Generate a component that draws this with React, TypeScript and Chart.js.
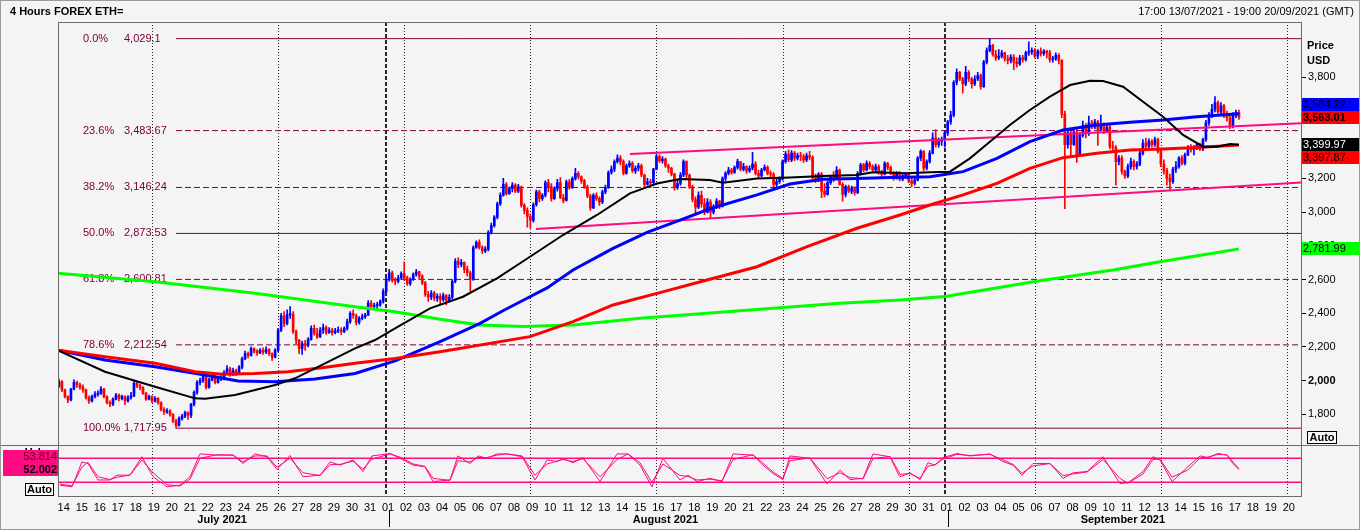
import React, { useEffect, useRef } from 'react';
import { Chart, registerables } from 'chart.js';

Chart.register(...registerables);

const FONT = '"Liberation Sans", Arial, sans-serif';

// ---------- time axis: days since 2021-07-01 00:00 GMT ----------
const X_MIN = 12.782;
const X_MAX = 81.777;
const FIRST_CANDLE = 12 + 20 / 24; // 13 Jul 20:00
const CANDLE_STEP = 4 / 24;
const dayTicks = Array.from({ length: 69 }, (_, i) => 13 + i);
const mondays = [18, 25, 32, 39, 46, 53, 60, 67, 74, 81];
const monthStarts = [31, 62];
const monthNames = ['July 2021', 'August 2021', 'September 2021'];
const monthBounds = [0, 31, 62, 92];
const priceTicks = [1800, 2000, 2200, 2400, 2600, 2800, 3000, 3200, 3400, 3600, 3800];

// ---------- 4h candles (open = previous close) ----------
const firstOpen = 1965;
const closes = [
  1995,
  1945, 1905, 1885, 1950, 1990, 1975,
  1960, 1945, 1900, 1880, 1905, 1920,
  1925, 1950, 1905, 1870, 1860, 1890,
  1915, 1895, 1905, 1880, 1900, 1910,
  1985, 1970, 1960, 1925, 1890, 1905,
  1880, 1895, 1870, 1830, 1815, 1820,
  1800, 1760, 1735, 1775, 1790, 1810,
  1795, 1860, 1930, 1990, 2000, 2025,
  1960, 2005, 2020, 1990, 2010, 2015,
  2050, 2070, 2035, 2060, 2040, 2080,
  2130, 2160, 2150, 2190, 2175, 2165,
  2180, 2170, 2185, 2160, 2140, 2180,
  2300, 2385, 2340, 2390, 2395, 2290,
  2240, 2190, 2220, 2210, 2245, 2310,
  2280, 2260, 2300, 2315, 2285, 2300,
  2285, 2295, 2300, 2290, 2310, 2350,
  2400, 2385, 2345, 2370, 2380, 2390,
  2460, 2440, 2445, 2450, 2470, 2530,
  2600, 2640, 2595, 2590, 2610, 2635,
  2610, 2575, 2600, 2630, 2645, 2620,
  2580, 2510, 2495, 2520, 2490, 2500,
  2480, 2505, 2475, 2495, 2590, 2710,
  2690, 2700, 2660, 2640, 2600, 2790,
  2820, 2790, 2770, 2780, 2880, 2920,
  2970, 3050, 3100, 3165, 3110, 3140,
  3160, 3125, 3150, 3040, 3010, 2975,
  2950, 3045, 3120, 3080, 3100, 3175,
  3150, 3080, 3140, 3175, 3085, 3070,
  3180, 3145, 3200, 3230, 3210, 3185,
  3150, 3095, 3025, 3100, 3080, 3060,
  3120, 3145, 3235, 3255, 3300, 3320,
  3300, 3230, 3275, 3290, 3245, 3260,
  3275, 3220, 3165, 3180, 3175, 3255,
  3330, 3305, 3315, 3275, 3260, 3225,
  3145, 3170, 3220, 3300, 3220, 3150,
  3075, 3030, 3100, 3050, 3000, 3060,
  3000, 3030, 3065, 3035, 3200, 3230,
  3250, 3235, 3265, 3300, 3255, 3270,
  3245, 3260, 3285, 3230, 3215, 3250,
  3265, 3230, 3225, 3165, 3180, 3195,
  3300, 3345, 3310, 3350, 3320, 3335,
  3330, 3310, 3335, 3325, 3205, 3190,
  3225, 3125, 3105, 3175, 3210, 3200,
  3250, 3165, 3105, 3150, 3125, 3140,
  3115, 3230, 3280, 3250, 3290, 3270,
  3250, 3270, 3240, 3225, 3290, 3265,
  3230, 3200, 3230, 3195, 3215, 3225,
  3185, 3170, 3190, 3320, 3360, 3260,
  3300, 3350, 3440, 3400, 3420, 3430,
  3470, 3535, 3575, 3770, 3830, 3790,
  3760, 3830, 3790, 3760, 3790, 3810,
  3745, 3890, 3960, 3990, 3935, 3915,
  3925, 3945, 3910, 3900, 3920, 3890,
  3880, 3915, 3905, 3945, 3950, 3960,
  3925, 3955, 3940, 3955, 3945, 3905,
  3910, 3930, 3900, 3580, 3400, 3470,
  3400, 3475, 3340, 3455, 3515, 3465,
  3530, 3505, 3535, 3490, 3520, 3480,
  3505, 3390, 3385, 3300, 3320, 3240,
  3215, 3270, 3300, 3270, 3285, 3350,
  3410, 3390, 3420, 3400, 3430, 3360,
  3285, 3245, 3200, 3180, 3255, 3270,
  3320, 3290, 3340, 3385, 3370, 3380,
  3400, 3375, 3430, 3530, 3575, 3610,
  3650, 3595, 3630, 3575, 3560, 3515,
  3575, 3590, 3563.01,
];
const highs = [
  2010,
  2000, 1950, 1910, 1955, 2005, 1998,
  1985, 1975, 1950, 1910, 1915, 1935,
  1940, 1965, 1955, 1910, 1880, 1898,
  1925, 1922, 1915, 1910, 1912, 1930,
  2000, 1995, 1980, 1965, 1930, 1915,
  1910, 1905, 1900, 1875, 1840, 1835,
  1828, 1805, 1770, 1785, 1800, 1820,
  1815, 1865, 1940, 2000, 2015, 2040,
  2035, 2015, 2030, 2035, 2020, 2028,
  2060, 2090, 2080, 2075, 2068, 2090,
  2140, 2175, 2170, 2200, 2195, 2185,
  2190, 2195, 2200, 2190, 2165, 2190,
  2310, 2400, 2410, 2420, 2440, 2410,
  2300, 2245, 2235, 2240, 2255, 2325,
  2330, 2310, 2315, 2335, 2325, 2315,
  2310, 2310, 2320, 2315, 2320, 2365,
  2410, 2420, 2395, 2380, 2395, 2400,
  2475, 2475, 2460, 2465, 2480, 2545,
  2615, 2660, 2650, 2610, 2625, 2645,
  2705, 2620, 2610, 2640, 2660, 2650,
  2630, 2590, 2530, 2535, 2530, 2515,
  2515, 2520, 2510, 2510, 2600, 2725,
  2730, 2720, 2705, 2680, 2650, 2800,
  2830, 2835, 2800, 2795, 2890, 2935,
  2980, 3060, 3115, 3200, 3175, 3150,
  3175, 3170, 3165, 3155, 3050, 3025,
  2990, 3055, 3130, 3130, 3110, 3185,
  3195, 3170, 3150, 3195, 3205, 3105,
  3190, 3195, 3210, 3260, 3240, 3215,
  3195, 3160, 3105, 3110, 3115, 3090,
  3130, 3160, 3245, 3275, 3310, 3340,
  3335, 3310, 3285, 3305, 3300, 3275,
  3290, 3285, 3225, 3200, 3195, 3260,
  3345, 3340, 3330, 3320, 3285, 3265,
  3230, 3195, 3235, 3310, 3305, 3225,
  3160, 3090, 3120, 3125, 3080, 3080,
  3075, 3045, 3080, 3070, 3210, 3240,
  3265, 3260, 3275, 3315, 3300, 3290,
  3275, 3275, 3355, 3300, 3250, 3260,
  3280, 3275, 3245, 3235, 3200, 3210,
  3310, 3360, 3370, 3365, 3360, 3350,
  3355, 3345, 3350, 3360, 3335, 3225,
  3235, 3235, 3170, 3185, 3220, 3240,
  3270, 3255, 3175, 3160, 3160, 3155,
  3150, 3240, 3290, 3290, 3305, 3300,
  3280, 3285, 3280, 3250, 3300, 3295,
  3275, 3240, 3240, 3240, 3225, 3235,
  3230, 3205, 3200, 3330, 3370, 3365,
  3310, 3365, 3470, 3490, 3440, 3445,
  3480, 3545, 3600, 3780, 3850, 3835,
  3800, 3865, 3840, 3800, 3810, 3830,
  3820, 3900, 3975, 4030, 3995, 3960,
  3965, 3960, 3950, 3930, 3935, 3935,
  3915, 3930, 3930, 3955, 4010, 3975,
  3970, 3965, 3975, 3965, 3960, 3960,
  3925, 3945, 3940, 3905, 3600, 3490,
  3480, 3490, 3490, 3470, 3540, 3525,
  3570, 3545, 3550, 3545, 3575, 3530,
  3520, 3520, 3420, 3395, 3335, 3335,
  3250, 3285, 3320, 3310, 3300, 3365,
  3430, 3440, 3435, 3430, 3445, 3440,
  3380, 3310, 3260, 3225, 3265, 3300,
  3330, 3335, 3350, 3395, 3400, 3395,
  3410, 3410, 3440, 3545, 3590, 3640,
  3685, 3660, 3650, 3640, 3600, 3575,
  3590, 3605, 3605,
];
const lows = [
  1960,
  1935, 1898, 1870, 1880, 1945, 1960,
  1950, 1930, 1890, 1865, 1872, 1898,
  1908, 1918, 1898, 1862, 1845, 1852,
  1885, 1880, 1885, 1858, 1872, 1890,
  1905, 1958, 1945, 1918, 1882, 1885,
  1870, 1872, 1860, 1820, 1800, 1805,
  1790, 1750, 1718, 1730, 1765, 1780,
  1770, 1780, 1850, 1920, 1975, 1990,
  1950, 1955, 1998, 1980, 1985, 2000,
  2005, 2040, 2025, 2030, 2030, 2035,
  2070, 2125, 2135, 2145, 2165, 2150,
  2160, 2155, 2160, 2150, 2120, 2135,
  2170, 2290, 2320, 2330, 2370, 2280,
  2220, 2160, 2155, 2180, 2200, 2240,
  2270, 2250, 2255, 2280, 2275, 2280,
  2270, 2278, 2285, 2275, 2285, 2300,
  2340, 2370, 2330, 2335, 2360, 2370,
  2385, 2425, 2425, 2430, 2440, 2460,
  2520, 2590, 2585, 2570, 2580, 2600,
  2595, 2565, 2565, 2595, 2620, 2600,
  2570, 2500, 2470, 2480, 2475, 2470,
  2455, 2470, 2450, 2465, 2485, 2580,
  2670, 2675, 2640, 2620, 2530, 2595,
  2785, 2780, 2755, 2760, 2770, 2870,
  2910, 2960, 3040, 3095, 3100, 3105,
  3120, 3115, 3115, 3030, 2990, 2910,
  2905, 2940, 3035, 3060, 3070, 3090,
  3120, 3065, 3075, 3125, 3080, 3055,
  3065, 3135, 3140, 3190, 3195, 3170,
  3140, 3085, 3010, 3020, 3070, 3040,
  3050, 3110, 3140, 3225, 3240, 3290,
  3280, 3220, 3225, 3265, 3235, 3230,
  3245, 3210, 3150, 3160, 3145, 3170,
  3250, 3295, 3290, 3265, 3235, 3215,
  3130, 3135, 3160, 3210, 3200, 3140,
  3060, 2995, 3020, 3030, 2985, 2995,
  2965, 2990, 3020, 3020, 3030, 3185,
  3220, 3225, 3230, 3255, 3245, 3245,
  3230, 3235, 3250, 3220, 3200, 3210,
  3245, 3220, 3205, 3150, 3150, 3170,
  3190, 3290, 3300, 3300, 3305, 3310,
  3305, 3295, 3300, 3310, 3195, 3175,
  3180, 3085, 3090, 3100, 3165, 3180,
  3195, 3160, 3065, 3090, 3115, 3110,
  3100, 3110, 3220, 3240, 3245, 3255,
  3235, 3240, 3225, 3210, 3220, 3250,
  3220, 3190, 3195, 3185, 3185, 3200,
  3175, 3150, 3160, 3185, 3305, 3245,
  3250, 3290, 3345, 3385, 3385, 3395,
  3385, 3455, 3520, 3565, 3755, 3780,
  3705, 3750, 3775, 3735, 3750, 3780,
  3730, 3740, 3880, 3950, 3925, 3900,
  3905, 3915, 3895, 3880, 3885, 3845,
  3860, 3870, 3890, 3895, 3930, 3935,
  3915, 3910, 3925, 3930, 3915, 3890,
  3890, 3900, 3880, 3560, 3020, 3380,
  3330, 3395, 3295, 3330, 3445, 3440,
  3455, 3495, 3495, 3395, 3480, 3465,
  3475, 3375, 3355, 3160, 3280, 3225,
  3200, 3205, 3255, 3250, 3255, 3275,
  3340, 3370, 3375, 3385, 3390, 3350,
  3270, 3225, 3160, 3130, 3170, 3235,
  3260, 3280, 3280, 3335, 3355, 3340,
  3370, 3365, 3365, 3420, 3515, 3560,
  3595, 3585, 3580, 3560, 3540, 3495,
  3500, 3560, 3550,
];

// ---------- moving averages (sample time, value) ----------
const maBlackT = [12.78, 15.39, 18.17, 20.39, 20.94, 22.61, 24.83, 25.94, 27.05, 28.16, 29.27, 30.38, 31.49, 33.43, 35.26, 37.15, 38.98, 40.81, 42.7, 44.53, 46.03, 47.31, 48.97, 49.69, 51.58, 53.41, 55.24, 57.13, 58.02, 59.91, 61.18, 62.29, 63.4, 64.51, 65.62, 66.73, 67.84, 68.96, 70.07, 70.79, 71.9, 73.01, 74.12, 75.23, 76.34, 77.11, 77.84, 78.33];
const maBlackV = [2180, 2053, 1964, 1895, 1893, 1915, 1974, 2014, 2073, 2132, 2192, 2241, 2310, 2429, 2498, 2607, 2735, 2864, 2983, 3111, 3170, 3196, 3190, 3175, 3200, 3206, 3214, 3220, 3236, 3230, 3236, 3240, 3319, 3418, 3517, 3606, 3685, 3754, 3780, 3778, 3744, 3655, 3566, 3458, 3388, 3388, 3404, 3399.97];
const maBlueT = [12.78, 15.39, 18.17, 20.94, 22.77, 24.83, 27.05, 29.27, 31.49, 33.99, 36.21, 37.48, 38.98, 39.93, 41.37, 43.59, 45.48, 47.31, 48.97, 51.58, 53.41, 55.24, 57.13, 58.96, 61.18, 63.02, 64.9, 66.73, 68.57, 70.45, 72.29, 74.12, 76.0, 78.33];
const maBlueV = [2180, 2123, 2083, 2034, 1998, 1994, 2010, 2043, 2117, 2232, 2340, 2415, 2498, 2550, 2657, 2785, 2880, 2953, 3020, 3102, 3167, 3195, 3200, 3206, 3210, 3240, 3319, 3418, 3487, 3517, 3533, 3547, 3566, 3584.22];
const maRedT = [12.78, 15.39, 18.17, 20.39, 21.88, 23.72, 25.55, 27.44, 29.27, 31.49, 33.99, 38.98, 41.37, 43.59, 46.03, 48.81, 51.58, 54.36, 57.13, 59.52, 61.18, 63.02, 64.9, 66.73, 68.57, 70.45, 72.29, 74.12, 76.0, 78.33];
const maRedV = [2180, 2142, 2103, 2053, 2038, 2043, 2053, 2077, 2103, 2132, 2172, 2261, 2350, 2449, 2518, 2597, 2676, 2795, 2904, 2983, 3042, 3102, 3171, 3260, 3323, 3349, 3369, 3375, 3383, 3397.87];
const maGreenT = [12.78, 18.17, 23.72, 29.27, 31.49, 33.99, 36.21, 38.59, 41.37, 45.09, 48.81, 52.47, 56.19, 59.52, 62.02, 67.01, 71.34, 73.95, 76.89, 78.33];
const maGreenV = [2637, 2587, 2518, 2439, 2409, 2364, 2330, 2321, 2330, 2370, 2400, 2429, 2459, 2479, 2499, 2588, 2657, 2706, 2756, 2781.99];

// ---------- Fibonacci retracement ----------
const fibStart = 19 + 8 / 24;
const fibPct = ['0.0%', '23.6%', '38.2%', '50.0%', '61.8%', '78.6%', '100.0%'];
const fibVal = [4029.1, 3483.67, 3146.24, 2873.53, 2600.81, 2212.54, 1717.95];
const fibDashed = [false, true, true, false, true, true, false];

// ---------- trend channel ----------
const upperTrendT = [44.53, 81.777];
const upperTrendV = [3345, 3528];
const lowerTrendT = [39.31, 81.777];
const lowerTrendV = [2900, 3175];

// ---------- stochastic ----------
const stochT = [12.89, 13.56, 14.11, 14.45, 15.0, 15.67, 16.06, 16.78, 17.44, 18.06, 18.83, 19.55, 20.11, 20.66, 21.61, 22.5, 23.05, 23.72, 24.38, 24.94, 25.66, 26.38, 27.33, 27.88, 28.44, 29.16, 29.71, 30.21, 31.21, 31.77, 32.49, 33.15, 33.6, 34.54, 34.98, 35.65, 36.1, 36.59, 37.15, 37.7, 38.54, 39.26, 39.93, 40.48, 40.81, 41.37, 41.92, 42.87, 43.81, 44.42, 45.09, 45.75, 46.36, 47.31, 47.75, 48.25, 48.97, 49.64, 50.25, 51.36, 51.91, 52.47, 53.02, 53.41, 54.52, 55.47, 56.19, 56.74, 57.47, 58.02, 58.96, 59.41, 59.52, 60.07, 60.63, 61.07, 61.46, 61.91, 62.68, 63.4, 64.51, 65.24, 65.79, 66.29, 66.9, 67.84, 68.57, 69.13, 69.9, 70.79, 71.73, 72.17, 73.01, 73.56, 73.95, 74.62, 75.5, 76.17, 76.61, 77.17, 77.67, 78.0, 78.33];
const stochK = [13, 9, 71, 67, 26, 26, 38, 38, 84, 34, 9, 13, 34, 91, 88, 88, 67, 91, 84, 52, 87, 34, 38, 71, 63, 76, 47, 86, 92, 80, 63, 59, 22, 26, 86, 67, 86, 80, 91, 91, 84, 26, 76, 72, 80, 69, 82, 22, 91, 91, 63, 9, 80, 26, 38, 22, 30, 22, 91, 88, 63, 42, 27, 86, 80, 16, 51, 27, 30, 91, 84, 42, 34, 44, 27, 69, 63, 82, 92, 86, 91, 72, 63, 38, 67, 67, 30, 44, 47, 84, 17, 19, 47, 84, 76, 22, 59, 86, 82, 92, 88, 67, 52.002];
const stochD = [16, 11, 58, 70, 34, 27, 33, 38, 76, 44, 14, 11, 28, 80, 89, 88, 71, 86, 86, 58, 80, 44, 37, 64, 65, 73, 53, 78, 91, 83, 66, 60, 30, 25, 74, 71, 82, 82, 88, 91, 86, 38, 66, 73, 77, 72, 79, 34, 77, 91, 69, 20, 66, 37, 35, 26, 28, 24, 77, 89, 68, 46, 30, 74, 81, 29, 44, 32, 29, 79, 85, 50, 40, 42, 30, 60, 64, 78, 90, 87, 90, 76, 65, 43, 61, 67, 37, 41, 46, 77, 30, 18, 41, 77, 78, 33, 51, 81, 83, 90, 89, 71, 53.814];
const stochLevels = [80, 20];

// ---------- colours ----------
const UP = '#0000ff';
const DOWN = '#ff0000';
const FIB = '#80003c';
const PINK = '#ff0a80';

const pts = (ts: number[], vs: number[]) => ts.map((t, i) => ({ x: t, y: vs[i] }));
const fmt2 = (v: number, d: number) => v.toLocaleString('en-US', { minimumFractionDigits: d, maximumFractionDigits: d });

function buildCandles() {
  return closes.map((c, i) => {
    const o = i === 0 ? firstOpen : closes[i - 1];
    return {
      t: FIRST_CANDLE + i * CANDLE_STEP,
      o,
      c,
      h: Math.max(highs[i], o, c),
      l: Math.min(lows[i], o, c),
    };
  });
}

const overlay = {
  id: 'overlay',
  beforeDraw(chart: any) {
    const { ctx, width, height } = chart;
    ctx.save();
    ctx.fillStyle = '#f4f4f4';
    ctx.fillRect(0, 0, width, height);
    ctx.restore();
  },
  beforeDatasetsDraw(chart: any) {
    const { ctx, chartArea: a, scales } = chart;
    const x = scales.x;
    const y = scales.y;
    ctx.save();
    ctx.strokeStyle = '#222';
    ctx.lineWidth = 1;
    ctx.setLineDash([1, 2]);
    for (const d of mondays) {
      const px = Math.round(x.getPixelForValue(d)) + 0.5;
      if (px < a.left || px > a.right) continue;
      ctx.beginPath(); ctx.moveTo(px, a.top); ctx.lineTo(px, a.bottom); ctx.stroke();
    }
    ctx.lineWidth = 2;
    ctx.strokeStyle = '#2a2a2a';
    ctx.setLineDash([4, 2]);
    for (const d of monthStarts) {
      const px = Math.round(x.getPixelForValue(d));
      ctx.beginPath(); ctx.moveTo(px, a.top); ctx.lineTo(px, a.bottom); ctx.stroke();
    }
    ctx.setLineDash([]);
    // fib labels
    ctx.fillStyle = FIB;
    ctx.font = `11px ${FONT}`;
    ctx.textBaseline = 'middle';
    ctx.textAlign = 'left';
    fibVal.forEach((v, i) => {
      const py = y.getPixelForValue(v);
      ctx.fillText(fibPct[i], 83, py);
      ctx.fillText(v.toLocaleString('en-US'), 124, py);
    });
    ctx.restore();
  },
  afterDraw(chart: any) {
    const { ctx, chartArea: a, scales } = chart;
    const x = scales.x;
    const y = scales.y;
    const ys = scales.yS;
    ctx.save();
    // frames
    ctx.strokeStyle = '#6c6c6c';
    ctx.lineWidth = 1;
    const line = (x1: number, y1: number, x2: number, y2: number) => {
      ctx.beginPath(); ctx.moveTo(x1, y1); ctx.lineTo(x2, y2); ctx.stroke();
    };
    line(a.left, a.top + 0.5, a.right + 1, a.top + 0.5);
    line(a.left + 0.5, a.top, a.left + 0.5, a.bottom + 1);
    line(a.right + 0.5, a.top, a.right + 0.5, a.bottom + 1);
    line(0, Math.round(ys.top) + 0.5, 1360, Math.round(ys.top) + 0.5);
    line(a.left, a.bottom + 0.5, a.right + 1, a.bottom + 0.5);
    ctx.strokeStyle = '#9a9a9a';
    ctx.strokeRect(0.5, 0.5, 1359, 529);

    // titles
    ctx.fillStyle = '#000';
    ctx.textBaseline = 'middle';
    ctx.font = `bold 11px ${FONT}`;
    ctx.textAlign = 'left';
    ctx.fillText('4 Hours FOREX ETH=', 10, 12);
    ctx.font = `11px ${FONT}`;
    ctx.textAlign = 'right';
    ctx.fillText('17:00 13/07/2021 - 19:00 20/09/2021 (GMT)', 1354, 12);
    ctx.textAlign = 'left';
    ctx.font = `bold 11px ${FONT}`;
    ctx.fillText('Price', 1307, 46);
    ctx.fillText('USD', 1307, 61);

    // month labels + separators
    ctx.font = `bold 11px ${FONT}`;
    ctx.textAlign = 'center';
    monthNames.forEach((m, i) => {
      const s = Math.max(monthBounds[i], X_MIN);
      const e = Math.min(monthBounds[i + 1], X_MAX);
      const cx = (x.getPixelForValue(s) + x.getPixelForValue(e)) / 2;
      ctx.fillText(m, cx, 520);
    });
    ctx.strokeStyle = '#000';
    for (const d of monthStarts) {
      const px = Math.round(x.getPixelForValue(d)) + 3.5;
      line(px, 510, px, 527);
    }

    // right value boxes
    const boxes = [
      { v: closes[closes.length - 1], bg: DOWN, fg: '#000', bold: true },
      { v: maBlueV[maBlueV.length - 1], bg: UP, fg: '#000', bold: false },
      { v: maBlackV[maBlackV.length - 1], bg: '#000', fg: '#fff', bold: false },
      { v: maRedV[maRedV.length - 1], bg: DOWN, fg: '#000', bold: false },
      { v: maGreenV[maGreenV.length - 1], bg: '#00ff00', fg: '#000', bold: false },
    ];
    const H = 13;
    const placed: { v: number; top: number }[] = [];
    for (const b of boxes) {
      let top = y.getPixelForValue(b.v) - H / 2;
      for (const p of placed) {
        if (top < p.top + H && top + H > p.top) {
          top = b.v > p.v ? p.top - H : p.top + H;
        }
      }
      placed.push({ v: b.v, top });
      ctx.fillStyle = b.bg;
      ctx.fillRect(a.right + 1, Math.round(top), 57, H);
      ctx.fillStyle = b.fg;
      ctx.font = `${b.bold ? 'bold ' : ''}11px ${FONT}`;
      ctx.textAlign = 'left';
      ctx.fillText(fmt2(b.v, 2), a.right + 2, Math.round(top) + H / 2 + 0.5);
    }

    // stochastic left labels
    ctx.font = `bold 11px ${FONT}`;
    ctx.fillStyle = '#000';
    ctx.textAlign = 'left';
    ctx.fillText('Val', 25, 453);
    ctx.fillStyle = PINK;
    ctx.fillRect(3, 450, 55, 26);
    ctx.textAlign = 'right';
    ctx.font = `11px ${FONT}`;
    ctx.fillStyle = '#600020';
    ctx.fillText(fmt2(stochD[stochD.length - 1], 3), 57, 457);
    ctx.font = `bold 11px ${FONT}`;
    ctx.fillStyle = '#000';
    ctx.fillText(fmt2(stochK[stochK.length - 1], 3), 57, 470);

    // Auto buttons
    const auto = (bx: number, by: number, w: number, h: number) => {
      ctx.fillStyle = '#fafafa';
      ctx.fillRect(bx, by, w, h);
      ctx.strokeStyle = '#000';
      ctx.strokeRect(bx + 0.5, by + 0.5, w - 1, h - 1);
      ctx.fillStyle = '#000';
      ctx.font = `bold 11px ${FONT}`;
      ctx.textAlign = 'center';
      ctx.fillText('Auto', bx + w / 2, by + h / 2 + 0.5);
    };
    auto(25, 483, 29, 13);
    auto(1307, 431, 30, 13);
    ctx.restore();
  },
};

export default function App() {
  const ref = useRef<HTMLCanvasElement>(null);
  useEffect(() => {
    document.body.style.margin = '0';
    document.body.style.background = '#f4f4f4';
    const candles = buildCandles();
    const colors = candles.map((k) => (k.c >= k.o ? UP : DOWN));

    const fibSets = fibVal.map((v, i) => ({
      type: 'line',
      data: [{ x: fibStart, y: v }, { x: X_MAX, y: v }],
      borderColor: FIB,
      borderWidth: 1,
      borderDash: fibDashed[i] ? [6, 3] : [],
      pointRadius: 0,
      yAxisID: 'y',
      order: 30,
    }));
    const maLine = (ts: number[], vs: number[], color: string, w: number, order: number) => ({
      type: 'line',
      data: pts(ts, vs),
      borderColor: color,
      borderWidth: w,
      pointRadius: 0,
      tension: 0,
      yAxisID: 'y',
      order,
    });
    const stochLevelSets = stochLevels.map((lv) => ({
      type: 'line',
      data: [{ x: X_MIN, y: lv }, { x: X_MAX, y: lv }],
      borderColor: PINK,
      borderWidth: 1.5,
      pointRadius: 0,
      yAxisID: 'yS',
      order: 2,
    }));

    const chart = new Chart(ref.current as HTMLCanvasElement, {
      type: 'bar',
      data: {
        datasets: [
          ...fibSets,
          {
            type: 'bar',
            data: candles.map((k) => ({ x: k.t, y: [k.l, k.h] })),
            backgroundColor: colors,
            barThickness: 1,
            grouped: false,
            borderWidth: 0,
            yAxisID: 'y',
            order: 12,
          },
          {
            type: 'bar',
            data: candles.map((k) => ({ x: k.t, y: [k.o, k.c] })),
            backgroundColor: colors,
            barThickness: 2,
            minBarLength: 1,
            grouped: false,
            borderWidth: 0,
            yAxisID: 'y',
            order: 11,
          },
          {
            type: 'line',
            data: pts(upperTrendT, upperTrendV),
            borderColor: PINK,
            borderWidth: 2,
            pointRadius: 0,
            yAxisID: 'y',
            order: 8,
          },
          {
            type: 'line',
            data: pts(lowerTrendT, lowerTrendV),
            borderColor: PINK,
            borderWidth: 2,
            pointRadius: 0,
            yAxisID: 'y',
            order: 8,
          },
          maLine(maGreenT, maGreenV, '#00ff00', 3, 6),
          maLine(maBlueT, maBlueV, '#0000ff', 3, 5),
          maLine(maRedT, maRedV, '#ff0000', 3, 4),
          maLine(maBlackT, maBlackV, '#000000', 2, 3),
          ...stochLevelSets,
          {
            type: 'line',
            data: pts(stochT, stochD),
            borderColor: PINK,
            borderWidth: 1,
            pointRadius: 0,
            yAxisID: 'yS',
            order: 1,
          },
          {
            type: 'line',
            data: pts(stochT, stochK),
            borderColor: PINK,
            borderWidth: 1,
            pointRadius: 0,
            yAxisID: 'yS',
            order: 1,
          },
        ] as any,
      },
      options: {
        responsive: false,
        animation: false,
        devicePixelRatio: 1,
        events: [],
        layout: { padding: { left: 58, top: 22, right: 0, bottom: 0 } },
        plugins: { legend: { display: false }, tooltip: { enabled: false } },
        scales: {
          x: {
            type: 'linear',
            position: 'bottom',
            min: X_MIN,
            max: X_MAX,
            offset: false,
            grid: { display: false, drawTicks: false, offset: false },
            border: { display: false },
            afterFit: (s: any) => { s.height = 34; },
            afterBuildTicks: (s: any) => { s.ticks = dayTicks.map((d) => ({ value: d + 0.1 })); },
            ticks: {
              autoSkip: false,
              maxRotation: 0,
              minRotation: 0,
              padding: 5,
              color: '#000',
              font: { family: FONT, size: 11 },
              callback: (v: any) => {
                const d = Math.round(Number(v) - 0.1);
                const dt = new Date(Date.UTC(2021, 6, 1 + d));
                return String(dt.getUTCDate()).padStart(2, '0');
              },
            },
          },
          y: {
            type: 'linear',
            position: 'right',
            stack: 'p',
            stackWeight: 8.24,
            min: 1620,
            max: 4128,
            grid: { display: true, drawOnChartArea: false, drawTicks: true, tickLength: 5, color: '#000', tickColor: '#000' },
            border: { display: false },
            afterFit: (s: any) => { s.width = 59; },
            afterBuildTicks: (s: any) => { s.ticks = priceTicks.map((v) => ({ value: v })); },
            ticks: {
              padding: 2,
              color: '#000',
              font: (c: any) => ({ family: FONT, size: 11, weight: c.tick && c.tick.value === 2000 ? 'bold' : 'normal' }),
              callback: (v: any) => Number(v).toLocaleString('en-US'),
            },
          },
          yS: {
            type: 'linear',
            position: 'right',
            stack: 'p',
            stackWeight: 1,
            min: -14,
            max: 114,
            grid: { display: false, drawTicks: false },
            border: { display: false },
            ticks: { display: false },
            afterFit: (s: any) => { s.width = 59; },
          },
        },
      } as any,
      plugins: [overlay],
    });
    return () => chart.destroy();
  }, []);
  return <canvas ref={ref} width={1360} height={530} style={{ display: 'block', width: 1360, height: 530 }} />;
}
